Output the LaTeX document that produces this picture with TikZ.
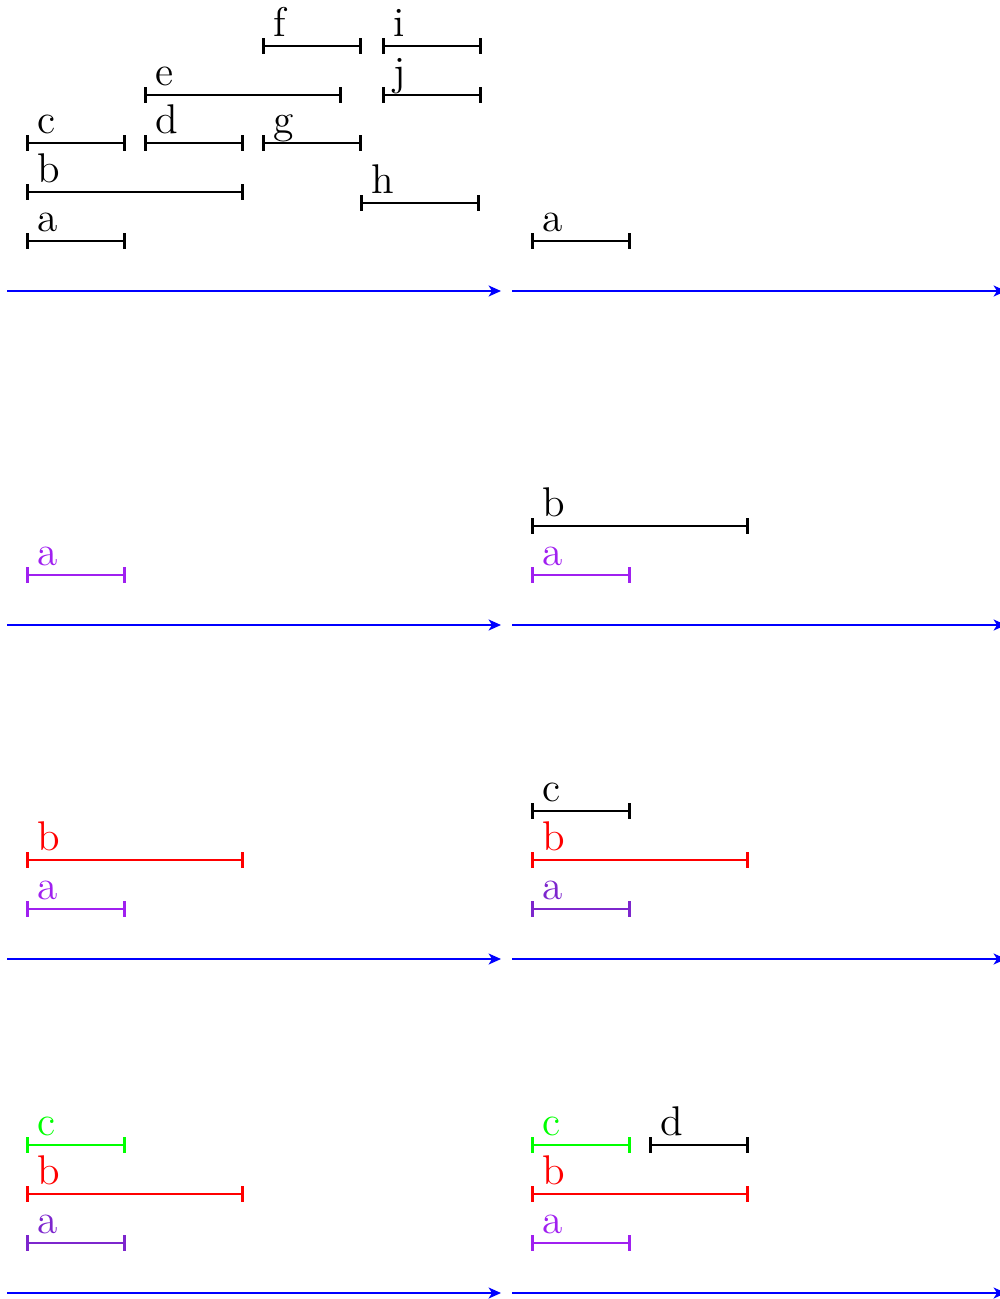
\documentclass[tikz,border=0pt]{standalone}
\usetikzlibrary{arrows.meta}
\definecolor{ivpurple}{HTML}{A020F0}
\definecolor{ivpurpledark}{HTML}{7D26CD}
\definecolor{ivgreen}{HTML}{00FF00}
\definecolor{ivred}{HTML}{FF0000}
\definecolor{ivblue}{HTML}{0000FF}
% interval: name, colour, from, to, height, label
\newcommand\ivl[6]{%
  \coordinate (#1s) at ({#3-1},#5);
  \coordinate (#1e) at ({#4+1},#5);
  \draw[span,#2] (#1s) -- (#1e);
  \node[lbl,text=#2] (#1) at ({#3+9.5},{#5-10}) {#6};}
% time axis of one panel
\newcommand\timeaxis[1]{%
  \coordinate (#1s) at (7,291);
  \coordinate (#1e) at (501,291);
  \draw[axisline] (#1s) -- (#1e);}
\begin{document}
\begin{tikzpicture}[x=0.2891pt,y=-0.2891pt,
  font=\fontsize{12}{14.4}\selectfont,
  span/.style={thick,{Bar[width=4.6pt]}-{Bar[width=4.6pt]}},
  lbl/.style={anchor=base west,inner sep=0pt},
  axisline/.style={ivblue,line width=0.4pt,-{Stealth[length=3.6pt,width=3.2pt,inset=1pt]}}]
\useasboundingbox (0,0) rectangle (1000,1299);

% panel 1: all intervals
\begin{scope}
  \ivl{pa}{black}{27}{125}{241}{a}
  \ivl{pb}{black}{27}{243}{192}{b}
  \ivl{pc}{black}{27}{125}{143}{c}
  \ivl{pd}{black}{145}{243}{143}{d}
  \ivl{pe}{black}{145}{341}{95}{e}
  \ivl{pf}{black}{263}{361}{46}{f}
  \ivl{pg}{black}{263}{361}{143}{g}
  \ivl{ph}{black}{361}{479}{203}{h}
  \ivl{pi}{black}{383}{481}{46}{i}
  \ivl{pj}{black}{383}{481}{95}{j}
  \timeaxis{ax1}
\end{scope}

% panel 2: a
\begin{scope}[shift={(505,0)}]
  \ivl{qa}{black}{27}{125}{241}{a}
  \timeaxis{ax2}
\end{scope}

% panel 3: a coloured
\begin{scope}[shift={(0,334)}]
  \ivl{ra}{ivpurple}{27}{125}{241}{a}
  \timeaxis{ax3}
\end{scope}

% panel 4: b
\begin{scope}[shift={(505,334)}]
  \ivl{sa}{ivpurple}{27}{125}{241}{a}
  \ivl{sb}{black}{27}{243}{192}{b}
  \timeaxis{ax4}
\end{scope}

% panel 5: b coloured
\begin{scope}[shift={(0,668)}]
  \ivl{ta}{ivpurple}{27}{125}{241}{a}
  \ivl{tb}{ivred}{27}{243}{192}{b}
  \timeaxis{ax5}
\end{scope}

% panel 6: c
\begin{scope}[shift={(505,668)}]
  \ivl{ua}{ivpurpledark}{27}{125}{241}{a}
  \ivl{ub}{ivred}{27}{243}{192}{b}
  \ivl{uc}{black}{27}{125}{143}{c}
  \timeaxis{ax6}
\end{scope}

% panel 7: c coloured
\begin{scope}[shift={(0,1002)}]
  \ivl{va}{ivpurpledark}{27}{125}{241}{a}
  \ivl{vb}{ivred}{27}{243}{192}{b}
  \ivl{vc}{ivgreen}{27}{125}{143}{c}
  \timeaxis{ax7}
\end{scope}

% panel 8: d
\begin{scope}[shift={(505,1002)}]
  \ivl{wa}{ivpurple}{27}{125}{241}{a}
  \ivl{wb}{ivred}{27}{243}{192}{b}
  \ivl{wc}{ivgreen}{27}{125}{143}{c}
  \ivl{wd}{black}{145}{243}{143}{d}
  \timeaxis{ax8}
\end{scope}
\end{tikzpicture}
\end{document}
